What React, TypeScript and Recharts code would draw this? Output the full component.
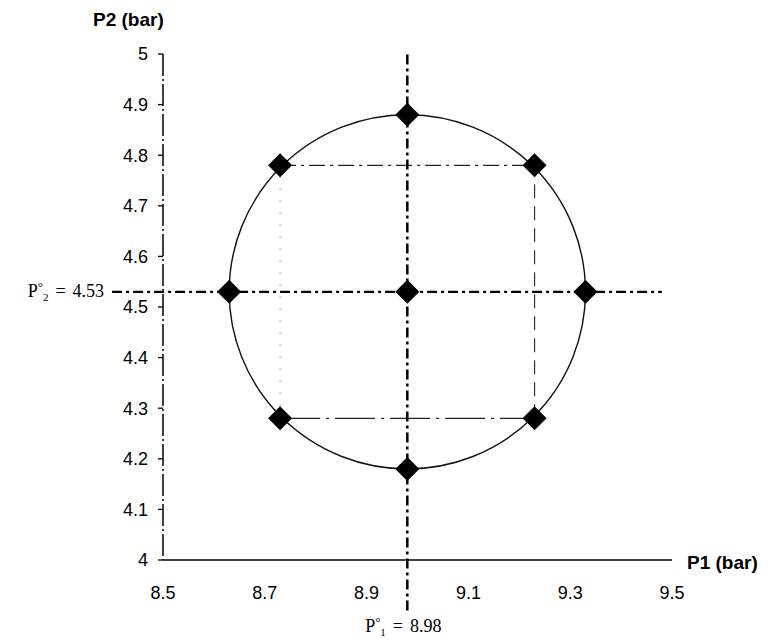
import {
  ScatterChart,
  Scatter,
  XAxis,
  YAxis,
  ReferenceLine,
  ReferenceArea,
  Label,
} from "recharts";

// operating points (P1, P2)
const pointsP1 = [8.98, 8.98, 8.98, 8.63, 9.33, 8.73, 9.23, 8.73, 9.23];
const pointsP2 = [4.53, 4.88, 4.18, 4.53, 4.53, 4.78, 4.78, 4.28, 4.28];

const centerP1 = 8.98;
const centerP2 = 4.53;
const radius = 0.35;

// inner square corners
const squareP1 = [8.73, 9.23];
const squareP2 = [4.28, 4.78];

const xTicks = [8.5, 8.7, 8.9, 9.1, 9.3, 9.5];
const yTicks = [4, 4.1, 4.2, 4.3, 4.4, 4.5, 4.6, 4.7, 4.8, 4.9, 5];

// extents of the two dash-dot guide lines
const hLineP1 = [8.4, 9.48];
const vLineP2 = [3.9, 5];

const points = pointsP1.map((p1, i) => ({ p1, p2: pointsP2[i] }));

const Diamond = (props: any) => {
  const { cx, cy } = props;
  const s = 12;
  return (
    <polygon
      points={`${cx},${cy - s} ${cx + s},${cy} ${cx},${cy + s} ${cx - s},${cy}`}
      fill="#000"
    />
  );
};

const Ellipse = (props: any) => {
  const { x, y, width, height } = props;
  return (
    <ellipse
      cx={x + width / 2}
      cy={y + height / 2}
      rx={width / 2}
      ry={height / 2}
      fill="none"
      stroke="#111"
      strokeWidth={1.4}
    />
  );
};

const tickStyle = { fontFamily: "Liberation Sans, Arial", fontSize: 18, fill: "#000" };
const titleFont = "Liberation Sans, Arial";
const serif = "Liberation Serif, Times New Roman";
const dashDot = "10 4 3 4";

// P° with subscript index, then " = value"
const PText = (x: number, y: number, anchor: string, idx: string, value: string) => (
  <text x={x} y={y} textAnchor={anchor} fontFamily={serif} fontSize={18} fill="#000">
    P
    <tspan fontSize={13} dy={-6}>°</tspan>
    <tspan fontSize={11} dy={10}>{idx}</tspan>
    <tspan dx={7} dy={-4}>=</tspan>
    <tspan dx={7}>{value}</tspan>
  </text>
);

export default function App() {
  return (
    <div style={{ position: "absolute", left: 0, top: 0, background: "#fff" }}>
      <ScatterChart
        width={771}
        height={640}
        margin={{ top: 54, right: 99, bottom: 50, left: 0 }}
      >
        <XAxis
          type="number"
          dataKey="p1"
          domain={[8.5, 9.5]}
          ticks={xTicks}
          tick={tickStyle}
          tickLine={false}
          tickMargin={20}
          axisLine={{ stroke: "#000", strokeWidth: 1.5 }}
          height={30}
        >
          <Label
            content={(p: any) => {
              const vb = p.viewBox;
              return (
                <text
                  x={vb.x + vb.width + 15}
                  y={vb.y + 9}
                  fontFamily={titleFont}
                  fontWeight="bold"
                  fontSize={19}
                  fill="#000"
                >
                  P1 (bar)
                </text>
              );
            }}
          />
        </XAxis>
        <YAxis
          type="number"
          dataKey="p2"
          domain={[4, 5]}
          ticks={yTicks}
          tick={tickStyle}
          tickFormatter={(v) => String(v)}
          tickSize={5}
          tickMargin={10}
          tickLine={{ stroke: "#000", strokeWidth: 1.3 }}
          axisLine={{ stroke: "#000", strokeWidth: 1.5, strokeDasharray: "22 3 2 3" }}
          width={163}
        >
          <Label
            content={(p: any) => {
              const vb = p.viewBox;
              return (
                <text
                  x={vb.x + vb.width - 70}
                  y={vb.y - 28}
                  fontFamily={titleFont}
                  fontWeight="bold"
                  fontSize={19}
                  fill="#000"
                >
                  P2 (bar)
                </text>
              );
            }}
          />
        </YAxis>

        <ReferenceArea
          x1={centerP1 - radius}
          x2={centerP1 + radius}
          y1={centerP2 - radius}
          y2={centerP2 + radius}
          ifOverflow="visible"
          shape={Ellipse}
        />

        {/* inner square */}
        <ReferenceLine
          segment={[{ x: squareP1[0], y: squareP2[1] }, { x: squareP1[1], y: squareP2[1] }]}
          stroke="#222"
          strokeWidth={1.3}
          strokeDasharray="16 5 3 5"
        />
        <ReferenceLine
          segment={[{ x: squareP1[0], y: squareP2[0] }, { x: squareP1[1], y: squareP2[0] }]}
          stroke="#222"
          strokeWidth={1.3}
          strokeDasharray="40 6 3 6"
        />
        <ReferenceLine
          segment={[{ x: squareP1[0], y: squareP2[0] }, { x: squareP1[0], y: squareP2[1] }]}
          stroke="#999"
          strokeWidth={1}
          strokeDasharray="2 10"
        />
        <ReferenceLine
          segment={[{ x: squareP1[1], y: squareP2[0] }, { x: squareP1[1], y: squareP2[1] }]}
          stroke="#333"
          strokeWidth={1.2}
          strokeDasharray="14 8"
        />

        {/* P°2 guide */}
        <ReferenceLine
          segment={[{ x: hLineP1[0], y: centerP2 }, { x: hLineP1[1], y: centerP2 }]}
          ifOverflow="visible"
          stroke="#000"
          strokeWidth={2.3}
          strokeDasharray={dashDot}
        >
          <Label
            content={(p: any) => {
              const vb = p.viewBox;
              return PText(vb.x - 8, vb.y + 5, "end", "2", "4.53");
            }}
          />
        </ReferenceLine>

        {/* P°1 guide */}
        <ReferenceLine
          segment={[{ x: centerP1, y: vLineP2[0] }, { x: centerP1, y: vLineP2[1] }]}
          ifOverflow="visible"
          stroke="#000"
          strokeWidth={2.5}
          strokeDasharray={dashDot}
        >
          <Label
            content={(p: any) => {
              const vb = p.viewBox;
              return PText(vb.x - 4, vb.y + vb.height + 21, "middle", "1", "8.98");
            }}
          />
        </ReferenceLine>

        <Scatter data={points} shape={Diamond} isAnimationActive={false} />
      </ScatterChart>
    </div>
  );
}
